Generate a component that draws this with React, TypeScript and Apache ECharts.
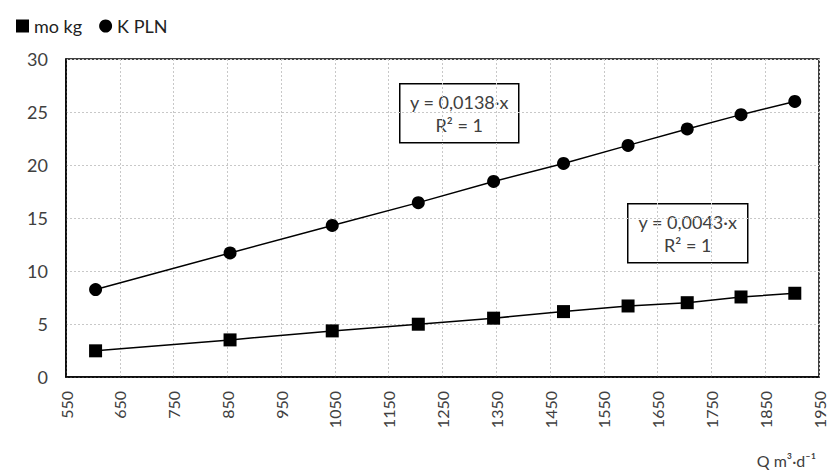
import React, { useEffect, useRef } from "react";
import * as echarts from "echarts";

// Flow rate Q (m³·d⁻¹)
const flowQ = [605, 855, 1045, 1205, 1345, 1475, 1595, 1705, 1805, 1905];
// Mass mo (kg)
const massKg = [2.47, 3.5, 4.35, 4.98, 5.55, 6.17, 6.7, 7.01, 7.55, 7.9];
// Cost K (PLN)
const costPln = [8.25, 11.7, 14.3, 16.45, 18.45, 20.15, 21.85, 23.4, 24.75, 26.0];

const seriesNames = ["mo kg", "K PLN"];
const trendLabels = ["y = 0,0138·x\nR² = 1", "y = 0,0043·x\nR² = 1"];
const xAxisTitle = "Q m³·d⁻¹";

const FONT = "Lato, 'Liberation Sans', sans-serif";
const TEXT = "#404040";

export default function App() {
  const ref = useRef<HTMLDivElement>(null);

  useEffect(() => {
    if (!ref.current) return;
    const chart = echarts.init(ref.current, null, { renderer: "svg" });
    const pairs = (ys: number[]) => flowQ.map((x, i) => [x, ys[i]]);

    chart.setOption({
      animation: false,
      textStyle: { fontFamily: FONT },
      legend: {
        left: 11,
        top: 12,
        itemWidth: 13,
        itemHeight: 13,
        itemGap: 17,
        textStyle: { fontFamily: FONT, fontSize: 18, color: "#222" },
        data: [
          { name: seriesNames[0], icon: "rect" },
          { name: seriesNames[1], icon: "circle" },
        ],
      },
      grid: { left: 66, top: 59, right: 9, bottom: 97, show: true, borderColor: "#000", borderWidth: 1.5 },
      xAxis: {
        type: "value",
        min: 550,
        max: 1950,
        interval: 100,
        axisLine: { show: true, lineStyle: { color: "#000", width: 1.5 } },
        axisTick: { show: false },
        axisLabel: {
          rotate: 90,
          color: TEXT,
          fontSize: 16,
          fontFamily: FONT,
          margin: 14,
          formatter: (v: number) => String(v),
        },
        splitLine: { show: true, lineStyle: { color: "#c8c8c8", type: [2, 2], width: 1 } },
      },
      yAxis: {
        type: "value",
        min: 0,
        max: 30,
        interval: 5,
        axisLine: { show: true, lineStyle: { color: "#000", width: 1.5 } },
        axisTick: { show: false },
        axisLabel: { color: TEXT, fontSize: 18, fontFamily: FONT, margin: 18 },
        splitLine: { show: true, lineStyle: { color: "#c8c8c8", type: [2, 2], width: 1 } },
      },
      series: [
        {
          name: seriesNames[0],
          type: "line",
          data: pairs(massKg),
          symbol: "rect",
          symbolSize: 13,
          itemStyle: { color: "#000" },
          lineStyle: { color: "#000", width: 1.5 },
        },
        {
          name: seriesNames[1],
          type: "line",
          data: pairs(costPln),
          symbol: "circle",
          symbolSize: 13,
          itemStyle: { color: "#000" },
          lineStyle: { color: "#000", width: 1.5 },
        },
      ],
      graphic: [
        {
          type: "group",
          left: 399,
          top: 83,
          children: [
            { type: "rect", shape: { x: 0, y: 0, width: 119, height: 59 }, style: { fill: "#fff", stroke: "#000", lineWidth: 1.5 } },
            {
              type: "text",
              x: 59.5,
              y: 30,
              style: { text: trendLabels[0], fill: TEXT, font: `18px ${FONT}`, align: "center", verticalAlign: "middle", lineHeight: 23 },
            },
          ],
        },
        {
          type: "group",
          left: 627,
          top: 203,
          children: [
            { type: "rect", shape: { x: 0, y: 0, width: 120, height: 59 }, style: { fill: "#fff", stroke: "#000", lineWidth: 1.5 } },
            {
              type: "text",
              x: 60,
              y: 30,
              style: { text: trendLabels[1], fill: TEXT, font: `18px ${FONT}`, align: "center", verticalAlign: "middle", lineHeight: 23 },
            },
          ],
        },
        {
          type: "text",
          right: 12,
          top: 452,
          style: { text: xAxisTitle, fill: TEXT, font: `16px ${FONT}` },
        },
      ],
    });

    return () => chart.dispose();
  }, []);

  return <div ref={ref} style={{ width: 828, height: 474, position: "absolute", left: 0, top: 0 }} />;
}
